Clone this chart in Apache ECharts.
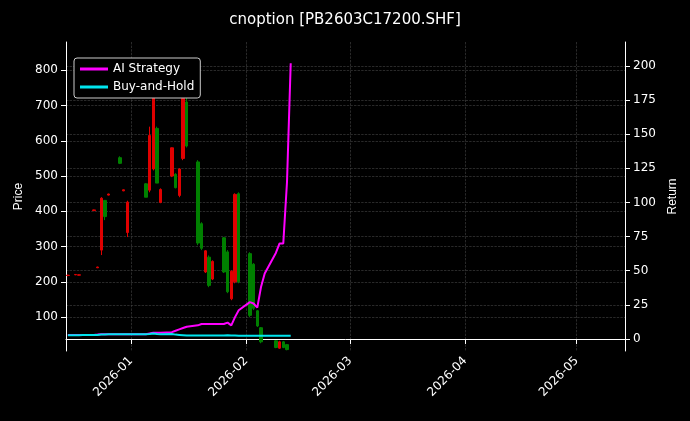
<!DOCTYPE html>
<html><head><meta charset="utf-8">
<script src="https://cdn.jsdelivr.net/npm/echarts@6/dist/echarts.min.js"></script>
<style>html,body{margin:0;background:#000}#c{width:690px;height:421px}</style>
</head><body><div id="c"></div>
<script>
// candles: [date, open, close, low, high]
const candles = [
 ['2025-12-15',218,219,216,220],
 ['2025-12-17',220,221,219,222],
 ['2025-12-18',219,220,218,221],
 ['2025-12-22',402,404,401,405],
 ['2025-12-23',240,242,239,243],
 ['2025-12-24',290,437,276,440],
 ['2025-12-25',431,385,375,431],
 ['2025-12-26',446,449,445,450],
 ['2025-12-29',552,536,534,556],
 ['2025-12-30',458,461,457,462],
 ['2025-12-31',340,426,327,430],
 ['2026-01-05',478,440,440,480],
 ['2026-01-06',460,615,454,640],
 ['2026-01-07',520,760,516,800],
 ['2026-01-08',635,480,480,640],
 ['2026-01-09',425,462,423,465],
 ['2026-01-12',500,580,497,581],
 ['2026-01-13',505,467,465,508],
 ['2026-01-14',445,520,440,522],
 ['2026-01-15',550,720,545,723],
 ['2026-01-16',710,585,581,790],
 ['2026-01-19',540,310,304,545],
 ['2026-01-20',365,295,290,369],
 ['2026-01-21',228,288,225,290],
 ['2026-01-22',270,190,185,275],
 ['2026-01-23',208,258,205,261],
 ['2026-01-26',325,228,225,327],
 ['2026-01-27',285,172,168,290],
 ['2026-01-28',152,230,148,233],
 ['2026-01-29',200,448,196,451],
 ['2026-01-30',450,200,196,454],
 ['2026-02-02',280,105,100,284],
 ['2026-02-03',250,125,120,253],
 ['2026-02-04',118,75,72,120],
 ['2026-02-05',70,30,26,72],
 ['2026-02-09',33,14,12,35],
 ['2026-02-10',12,30,10,33],
 ['2026-02-11',30,14,12,32],
 ['2026-02-12',22,8,6,24]
];
const lineDates = ['2025-12-15','2025-12-16','2025-12-17','2025-12-18','2025-12-19','2025-12-22','2025-12-23','2025-12-24','2025-12-25','2025-12-26','2025-12-29','2025-12-30','2025-12-31','2026-01-05','2026-01-06','2026-01-07','2026-01-08','2026-01-09','2026-01-12','2026-01-13','2026-01-14','2026-01-15','2026-01-16','2026-01-19','2026-01-20','2026-01-21','2026-01-22','2026-01-23','2026-01-26','2026-01-27','2026-01-28','2026-01-29','2026-01-30','2026-02-02','2026-02-03','2026-02-04','2026-02-05','2026-02-06','2026-02-09','2026-02-10','2026-02-11','2026-02-12','2026-02-13'];
const aiReturn = [3,3,3,3,3,3,3.2,3.5,3.5,3.5,3.5,3.5,3.5,3.5,4,4.5,4.5,4.5,5,6,7,8,9,10,11,11,11,11,11,12,10,16,21,27,26,23,38,48,63,70,70,115,202];
const bhReturn = [2.8,2.8,2.8,2.8,3,3,3,3.2,3.2,3.4,3.4,3.4,3.4,3.4,3.6,4,3.6,3.4,3.6,3.2,3,2.8,2.6,2.6,2.6,2.6,2.6,2.6,2.6,2.8,2.6,2.6,2.4,2.4,2.4,2.4,2.4,2.4,2.4,2.4,2.4,2.4,2.4];
const priceTicks = [100,200,300,400,500,600,700,800];
const returnTicks = [0,25,50,75,100,125,150,175,200];
const monthTicks = ['2026-01-01','2026-02-01','2026-03-01','2026-04-01','2026-05-01'];

const ts = d => Date.UTC(+d.slice(0,4), +d.slice(5,7)-1, +d.slice(8,10));
const monthTs = monthTicks.map(ts);
const chart = echarts.init(document.getElementById('c'));
const txt = '#fff';
const split = {show:true,lineStyle:{color:'#444',type:'dashed',width:0.6}};
chart.setOption({
 backgroundColor:'#000',
 animation:false,
 title:{text:'cnoption [PB2603C17200.SHF]',left:'center',top:8,textStyle:{color:txt,fontSize:15,fontWeight:'normal',fontFamily:'DejaVu Sans'}},
 legend:{orient:'vertical',left:74,top:58,backgroundColor:'#000',borderColor:'#ccc',borderWidth:1,borderRadius:3,padding:[5,6],itemGap:6,itemWidth:28,itemHeight:3,
   textStyle:{color:txt,fontSize:12,fontFamily:'DejaVu Sans'},data:[{name:'AI Strategy',icon:'rect'},{name:'Buy-and-Hold',icon:'rect'}]},
 grid:{left:66,right:65,top:42,bottom:70},
 xAxis:{type:'value',min:ts('2025-12-14')+43200000,max:ts('2026-05-14'),
   axisLine:{lineStyle:{color:'#fff'}},axisTick:{customValues:monthTs,lineStyle:{color:'#fff'}},
   splitLine:split,
   axisLabel:{customValues:monthTs,rotate:45,color:txt,fontSize:12,fontFamily:'DejaVu Sans',
     formatter:v=>{const d=new Date(v);return d.getUTCFullYear()+'-'+String(d.getUTCMonth()+1).padStart(2,'0');}}},
 yAxis:[
  {type:'value',min:4,max:880,name:'Price',nameLocation:'middle',nameGap:38,nameTextStyle:{color:txt,fontSize:12},
   axisLine:{show:true,lineStyle:{color:'#fff'}},axisTick:{show:true,customValues:priceTicks},
   axisLabel:{customValues:priceTicks,color:txt,fontSize:12,fontFamily:'DejaVu Sans'},splitLine:split},
  {type:'value',min:-8.8,max:217.5,name:'Return',nameLocation:'middle',nameGap:42,nameTextStyle:{color:txt,fontSize:12},
   axisLine:{show:true,lineStyle:{color:'#fff'}},axisTick:{show:true,customValues:returnTicks},
   axisLabel:{customValues:returnTicks,color:txt,fontSize:12,fontFamily:'DejaVu Sans'},splitLine:split}
 ],
 series:[
  {type:'candlestick',yAxisIndex:0,barWidth:3,data:candles.map(c=>[ts(c[0]),c[1],c[2],c[3],c[4]]),
   itemStyle:{color:'#e00000',color0:'#008000',borderColor:'#e00000',borderColor0:'#008000',borderWidth:1}},
  {name:'AI Strategy',type:'line',yAxisIndex:1,showSymbol:false,lineStyle:{color:'#ff00ff',width:2},itemStyle:{color:'#ff00ff'},
   data:lineDates.map((d,i)=>[ts(d),aiReturn[i]])},
  {name:'Buy-and-Hold',type:'line',yAxisIndex:1,showSymbol:false,lineStyle:{color:'#00e5ee',width:2},itemStyle:{color:'#00e5ee'},
   data:lineDates.map((d,i)=>[ts(d),bhReturn[i]])}
 ]
});
</script></body></html>
